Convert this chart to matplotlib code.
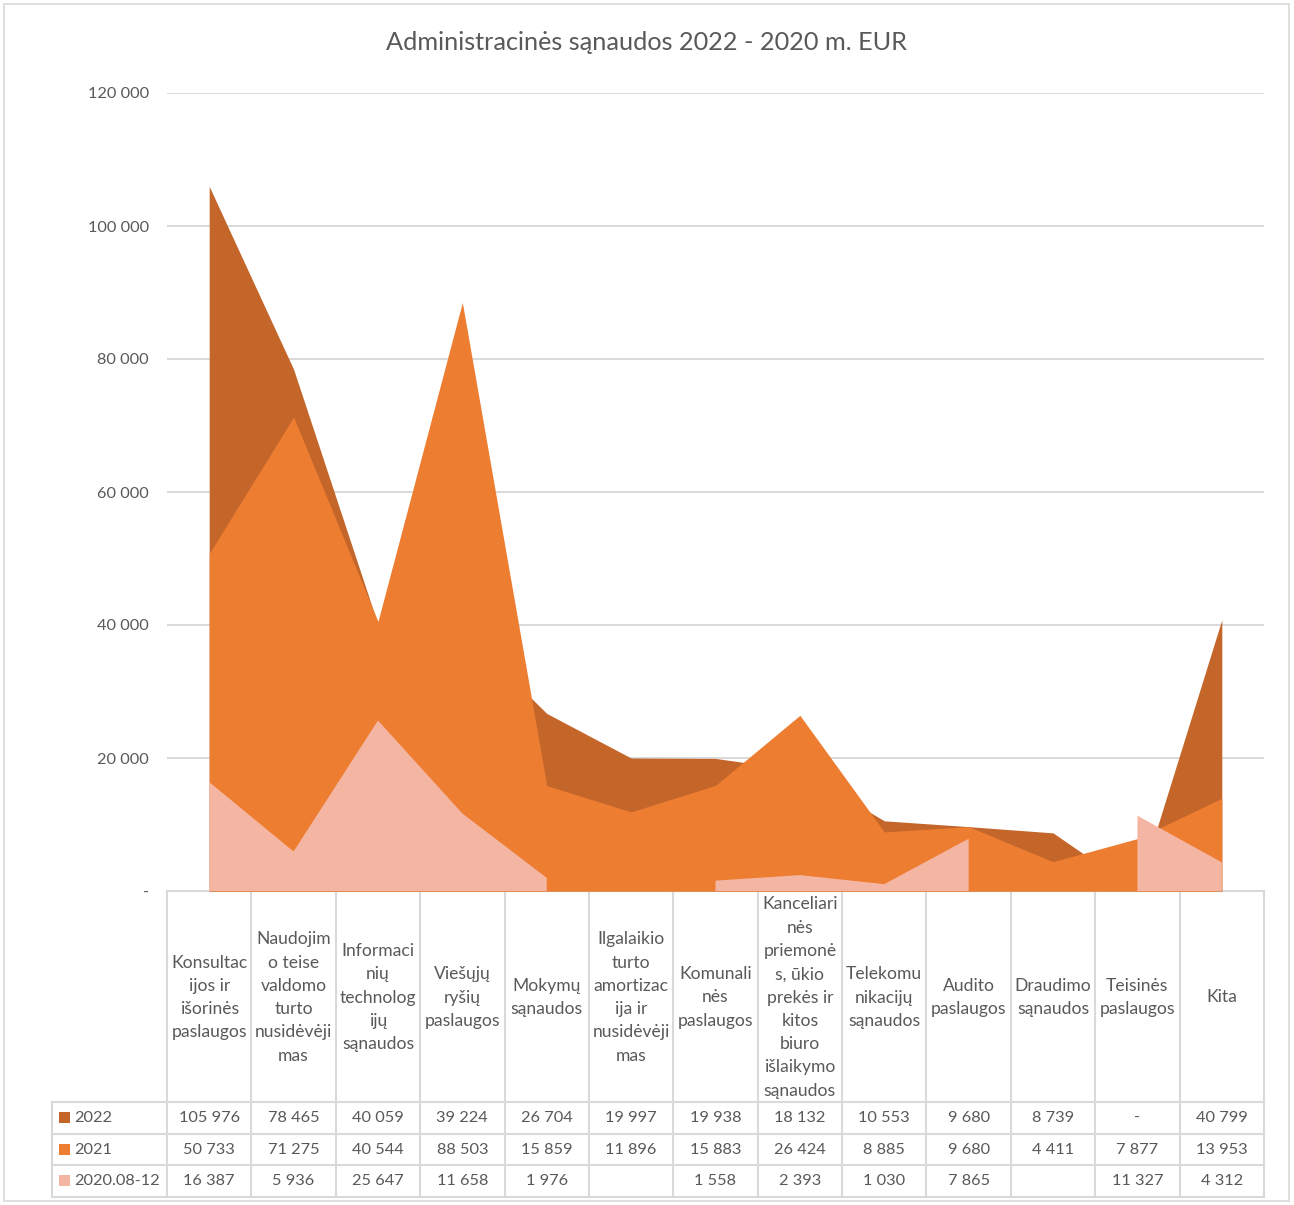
import numpy as np
import matplotlib
matplotlib.use("Agg")
import matplotlib.pyplot as plt
from matplotlib.patches import Rectangle

plt.rcParams['font.family'] = ['Lato', 'DejaVu Sans']

title = "Administracinės sąnaudos 2022 - 2020 m. EUR"
categories = [
    "Konsultac\nijos ir\nišorinės\npaslaugos",
    "Naudojim\no teise\nvaldomo\nturto\nnusidėvėji\nmas",
    "Informaci\nnių\ntechnolog\nijų\nsąnaudos",
    "Viešųjų\nryšių\npaslaugos",
    "Mokymų\nsąnaudos",
    "Ilgalaikio\nturto\namortizac\nija ir\nnusidėvėji\nmas",
    "Komunali\nnės\npaslaugos",
    "Kanceliari\nnės\npriemonė\ns, ūkio\nprekės ir\nkitos\nbiuro\nišlaikymo\nsąnaudos",
    "Telekomu\nnikacijų\nsąnaudos",
    "Audito\npaslaugos",
    "Draudimo\nsąnaudos",
    "Teisinės\npaslaugos",
    "Kita",
]
series_names = ["2022", "2021", "2020.08-12"]
v2022 = [105976, 78465, 40059, 39224, 26704, 19997, 19938, 18132, 10553, 9680, 8739, 0, 40799]
v2021 = [50733, 71275, 40544, 88503, 15859, 11896, 15883, 26424, 8885, 9680, 4411, 7877, 13953]
v2020 = [16387, 5936, 25647, 11658, 1976, np.nan, 1558, 2393, 1030, 7865, np.nan, 11327, 4312]
y_ticks = [0, 20000, 40000, 60000, 80000, 100000, 120000]
colors = ["#C4652A", "#ED7D31", "#F4B6A2"]

W, H = 1294, 1205
fig = plt.figure(figsize=(W / 100, H / 100), dpi=100)
fig.patch.set_facecolor("white")

# overlay axes in pixel coordinates for table / decorations
ov = fig.add_axes([0, 0, 1, 1], zorder=0)
ov.set_xlim(0, W)
ov.set_ylim(H, 0)
ov.axis("off")
ov.patch.set_alpha(0)

L, R, T, B = 167, 1264, 93, 891
ax = fig.add_axes([L / W, (H - B) / H, (R - L) / W, (B - T) / H], zorder=1)
ax.patch.set_alpha(0)
n = len(categories)
x = np.arange(n)
for vals, c in zip([v2022, v2021, v2020], colors):
    y = np.array(vals, dtype=float)
    ax.fill_between(x, 0, y, where=~np.isnan(y), color=c, linewidth=0, zorder=2)
ax.set_xlim(-0.5, n - 0.5)
ax.set_ylim(0, 120000)
ax.set_yticks(y_ticks)
ax.set_yticklabels(["-" if t == 0 else f"{t:,}".replace(",", " ") for t in y_ticks])
ax.tick_params(axis="y", length=0, pad=13, labelsize=11.8, labelcolor="#595959")
ax.set_xticks([])
ax.grid(axis="y", color="#D9D9D9", linewidth=1.4, zorder=0)
ax.set_axisbelow(True)
for s in ax.spines.values():
    s.set_visible(False)

fig.text(0.5, 1 - 43 / H, title, ha="center", va="center", fontsize=18.2,
         color="#595959")

# data table
gc = "#D9D9D9"
lw = 1.5
cw = (R - L) / n
row_tops = [B, 1102, 1134, 1165, 1197]
ov.plot([L, R], [B, B], color=gc, lw=lw)
for yy in row_tops[1:]:
    ov.plot([52, R], [yy, yy], color=gc, lw=lw)
for i in range(n + 1):
    xx = L + i * cw
    ov.plot([xx, xx], [B, 1197], color=gc, lw=lw)
ov.plot([52, 52], [1102, 1197], color=gc, lw=lw)

txtc = "#595959"
fs = 11.8
for i, cat in enumerate(categories):
    ov.text(L + (i + 0.5) * cw, (B + 1102) / 2 + 1, cat, ha="center", va="center",
            fontsize=12.6, color=txtc, linespacing=1.56)

def fmt(v):
    if v is None or (isinstance(v, float) and np.isnan(v)):
        return ""
    if v == 0:
        return "-"
    return f"{int(v):,}".replace(",", " ")

for r, (name, vals, c) in enumerate(zip(series_names, [v2022, v2021, v2020], colors)):
    yc = (row_tops[r + 1] + row_tops[r + 2]) / 2
    ov.add_patch(Rectangle((59, yc - 6), 11, 11, color=c, lw=0))
    ov.text(74, yc, name, ha="left", va="center", fontsize=fs, color=txtc)
    for i, v in enumerate(vals):
        ov.text(L + (i + 0.5) * cw, yc, fmt(v), ha="center", va="center",
                fontsize=fs, color=txtc)

# chart border
ov.add_patch(Rectangle((4, 4), W - 9, H - 8, fill=False, ec="#D9D9D9", lw=1.2))

fig.savefig("out.png", dpi=100, facecolor="white")
